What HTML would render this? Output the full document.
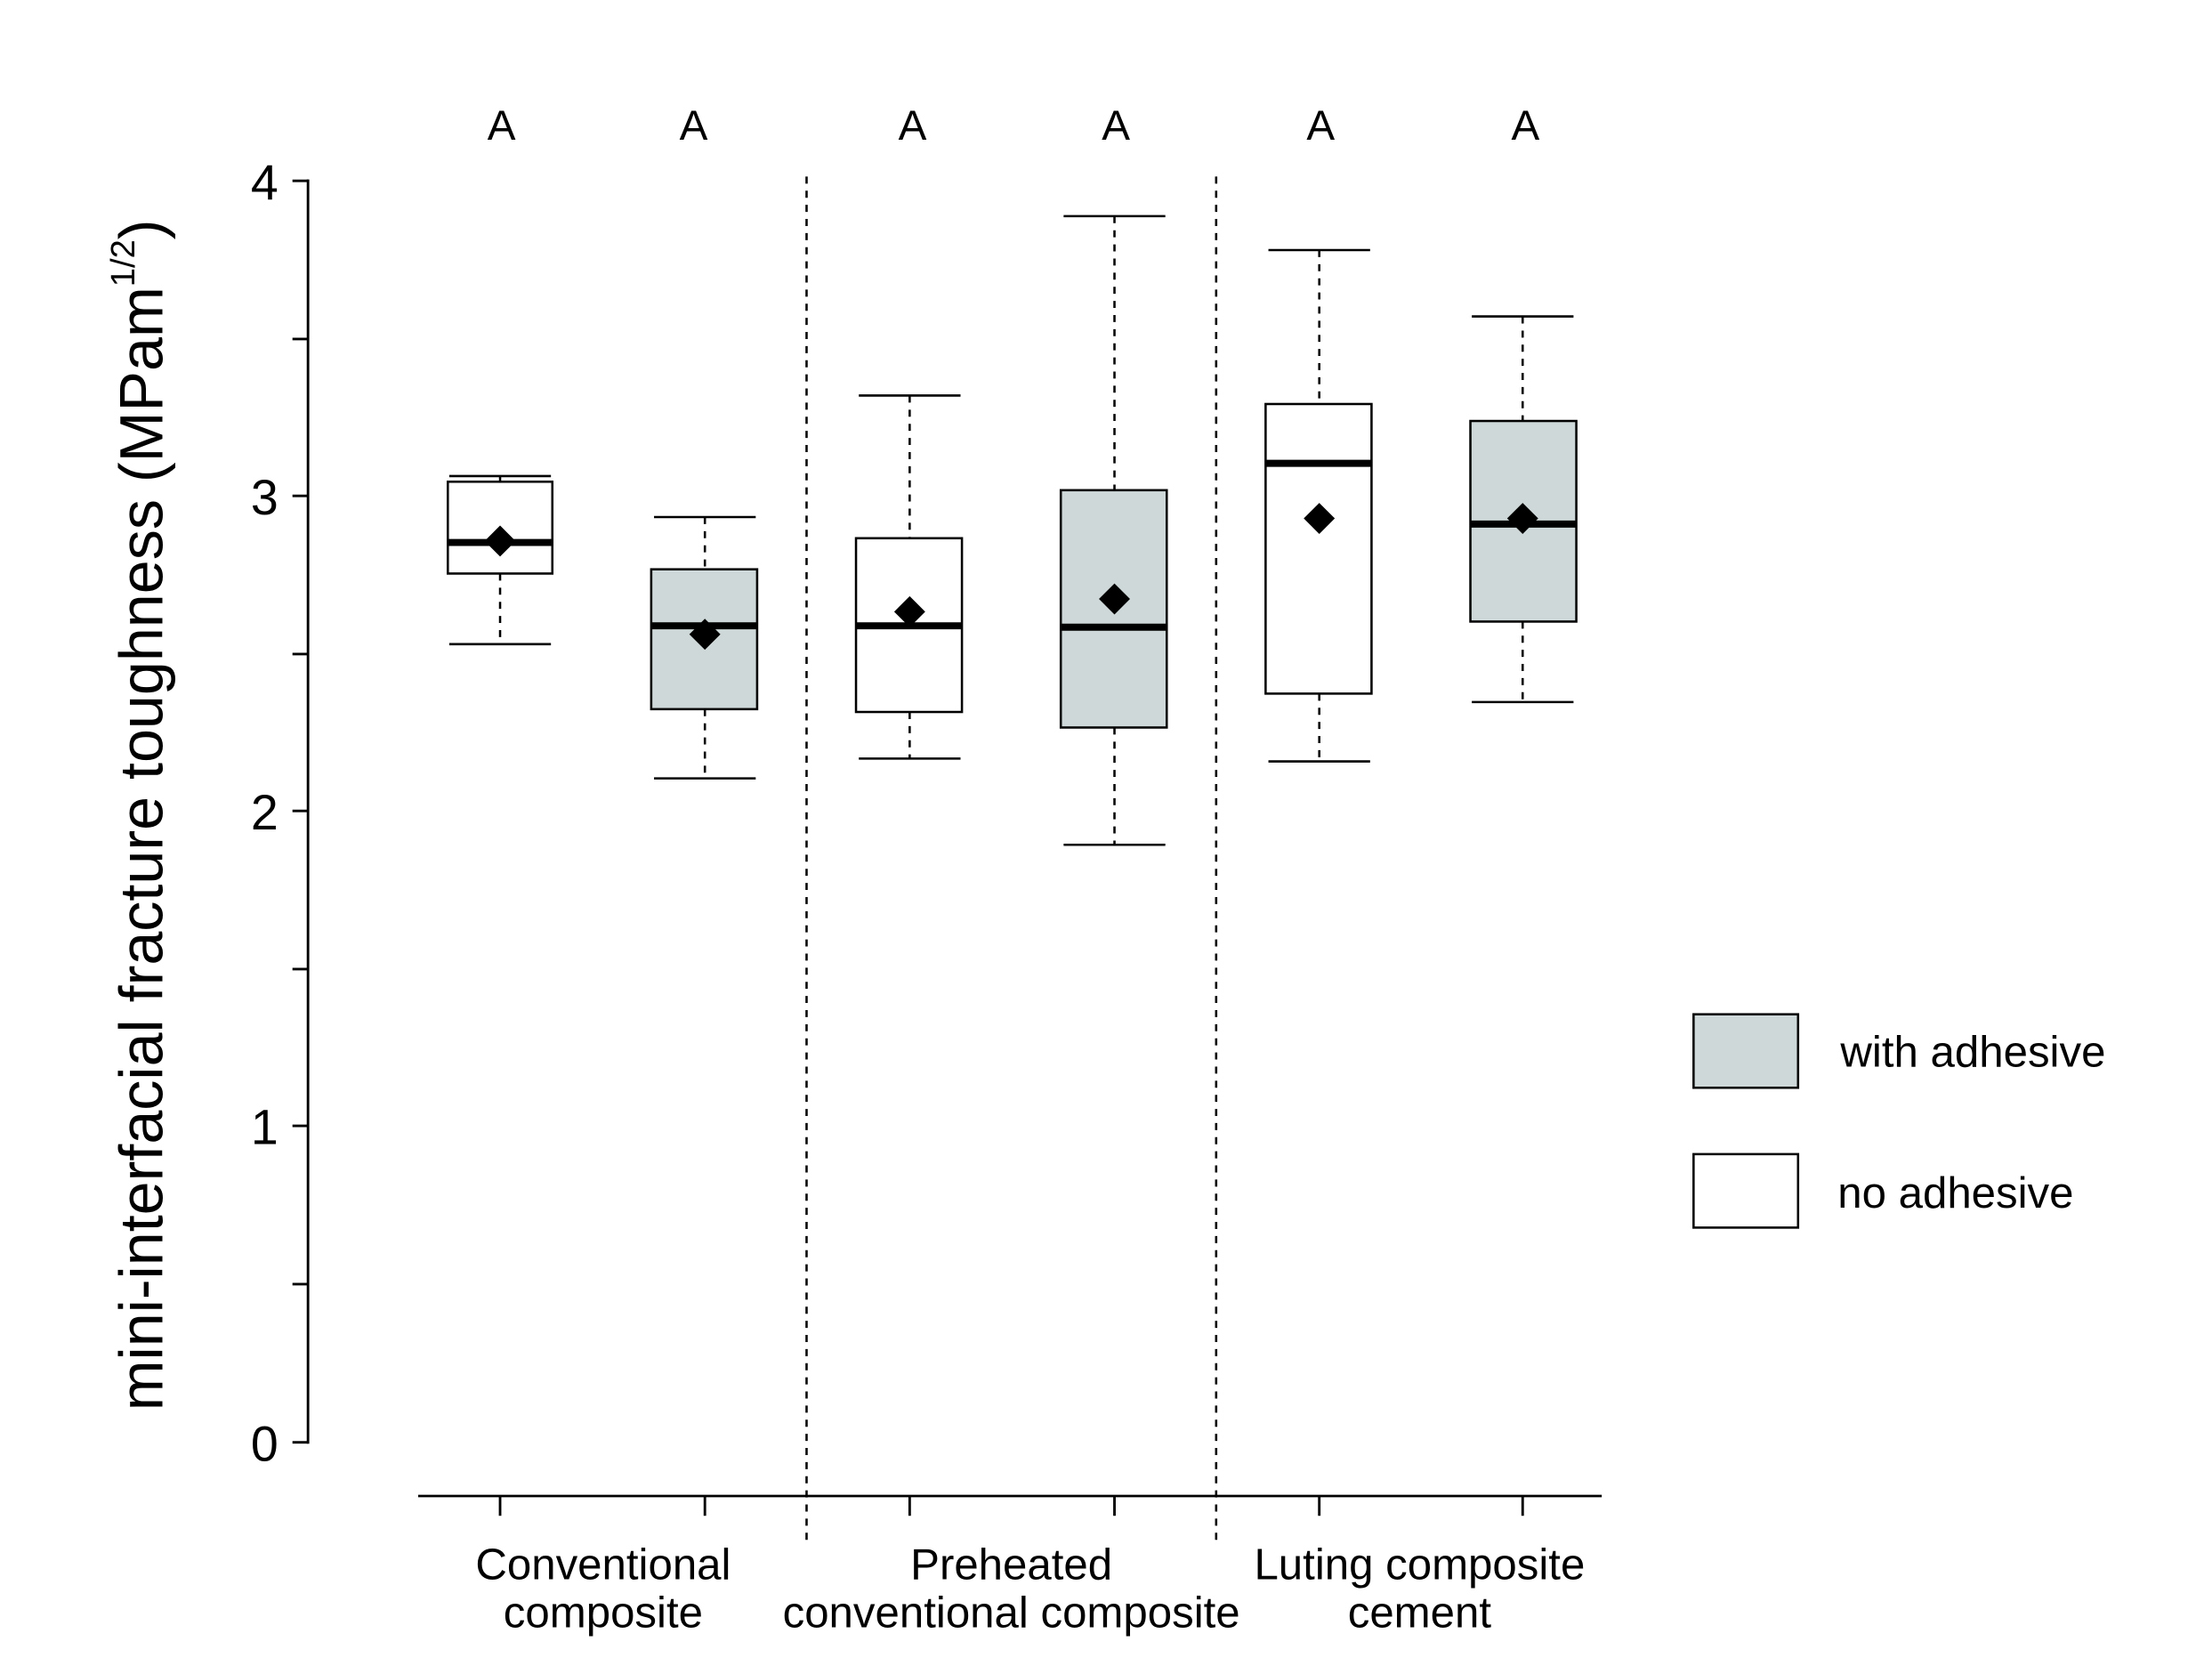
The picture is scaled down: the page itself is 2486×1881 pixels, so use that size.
<!DOCTYPE html>
<html><head><style>html,body{margin:0;padding:0;background:#fff}svg{display:block}</style></head>
<body>
<svg width="2486" height="1881" viewBox="0 0 1566 1185" xmlns="http://www.w3.org/2000/svg" font-family="Liberation Sans, sans-serif">
<rect width="1566" height="1185" fill="#fff"/>
<g stroke="#000" stroke-width="1.8" fill="none">
<line x1="218" y1="127" x2="218" y2="1022"/>
<line x1="207" y1="128" x2="218" y2="128"/><line x1="207" y1="240" x2="218" y2="240"/>
<line x1="207" y1="351" x2="218" y2="351"/><line x1="207" y1="463" x2="218" y2="463"/>
<line x1="207" y1="574" x2="218" y2="574"/><line x1="207" y1="686" x2="218" y2="686"/>
<line x1="207" y1="797" x2="218" y2="797"/><line x1="207" y1="909" x2="218" y2="909"/>
<line x1="207" y1="1021" x2="218" y2="1021"/>
<line x1="296" y1="1059" x2="1134" y2="1059"/>
<line x1="354" y1="1059" x2="354" y2="1073"/><line x1="499" y1="1059" x2="499" y2="1073"/>
<line x1="644" y1="1059" x2="644" y2="1073"/><line x1="789" y1="1059" x2="789" y2="1073"/>
<line x1="934" y1="1059" x2="934" y2="1073"/><line x1="1078" y1="1059" x2="1078" y2="1073"/>
</g>
<g stroke="#000" stroke-width="1.6" stroke-dasharray="5,5">
<line x1="571" y1="125" x2="571" y2="1090"/><line x1="861" y1="125" x2="861" y2="1090"/>
</g>
<g font-size="35" text-anchor="end" fill="#000">
<text x="197" y="141">4</text><text x="197" y="364">3</text><text x="197" y="587">2</text><text x="197" y="810">1</text><text x="197" y="1034">0</text>
</g>
<g font-size="30" text-anchor="middle" fill="#000">
<text x="355" y="99">A</text><text x="491" y="99">A</text><text x="646" y="99">A</text><text x="790" y="99">A</text><text x="935" y="99">A</text><text x="1080" y="99">A</text>
</g>
<g font-size="31" text-anchor="middle" fill="#000">
<text x="427" y="1118">Conventional</text><text x="427" y="1152">composite</text>
<text x="716" y="1118">Preheated</text><text x="716" y="1152">conventional composite</text>
<text x="1005" y="1118">Luting composite</text><text x="1005" y="1152">cement</text>
</g>
<text transform="translate(115,577) rotate(-90)" font-size="43" text-anchor="middle">mini-interfacial fracture toughness (MPam<tspan font-size="24" dy="-20">1/2</tspan><tspan dy="20">)</tspan></text>
<g stroke="#000" stroke-width="1.6">
<g stroke-dasharray="5,5">
<line x1="354" y1="337" x2="354" y2="341"/><line x1="354" y1="406" x2="354" y2="456"/>
<line x1="499" y1="366" x2="499" y2="403"/><line x1="499" y1="502" x2="499" y2="551"/>
<line x1="644" y1="280" x2="644" y2="381"/><line x1="644" y1="504" x2="644" y2="537"/>
<line x1="789" y1="153" x2="789" y2="347"/><line x1="789" y1="515" x2="789" y2="598"/>
<line x1="934" y1="177" x2="934" y2="286"/><line x1="934" y1="491" x2="934" y2="539"/>
<line x1="1078" y1="224" x2="1078" y2="298"/><line x1="1078" y1="440" x2="1078" y2="497"/>
</g>
<line x1="318" y1="337" x2="390" y2="337"/><line x1="318" y1="456" x2="390" y2="456"/>
<line x1="463" y1="366" x2="535" y2="366"/><line x1="463" y1="551" x2="535" y2="551"/>
<line x1="608" y1="280" x2="680" y2="280"/><line x1="608" y1="537" x2="680" y2="537"/>
<line x1="753" y1="153" x2="825" y2="153"/><line x1="753" y1="598" x2="825" y2="598"/>
<line x1="898" y1="177" x2="970" y2="177"/><line x1="898" y1="539" x2="970" y2="539"/>
<line x1="1042" y1="224" x2="1114" y2="224"/><line x1="1042" y1="497" x2="1114" y2="497"/>
<rect x="317" y="341" width="74" height="65" fill="#fff"/>
<rect x="461" y="403" width="75" height="99" fill="#cfd8d8"/>
<rect x="606" y="381" width="75" height="123" fill="#fff"/>
<rect x="751" y="347" width="75" height="168" fill="#cfd8d8"/>
<rect x="896" y="286" width="75" height="205" fill="#fff"/>
<rect x="1041" y="298" width="75" height="142" fill="#cfd8d8"/>
</g>
<g stroke="#000" stroke-width="5">
<line x1="317" y1="384" x2="391" y2="384"/><line x1="461" y1="443" x2="536" y2="443"/>
<line x1="606" y1="443" x2="681" y2="443"/><line x1="751" y1="444" x2="826" y2="444"/>
<line x1="896" y1="328" x2="971" y2="328"/><line x1="1041" y1="371" x2="1116" y2="371"/>
</g>
<g fill="#000">
<polygon points="354,372 365,383 354,394 343,383"/>
<polygon points="499,438 510,449 499,460 488,449"/>
<polygon points="644,422 655,433 644,444 633,433"/>
<polygon points="789,413 800,424 789,435 778,424"/>
<polygon points="934,356 945,367 934,378 923,367"/>
<polygon points="1078,356 1089,367 1078,378 1067,367"/>
</g>
<rect x="1199" y="718" width="74" height="52" fill="#cfd8d8" stroke="#000" stroke-width="1.6"/>
<rect x="1199" y="817" width="74" height="52" fill="#fff" stroke="#000" stroke-width="1.6"/>
<text x="1303" y="755" font-size="31">with adhesive</text>
<text x="1301" y="855" font-size="31">no adhesive</text>
</svg>
</body></html>
